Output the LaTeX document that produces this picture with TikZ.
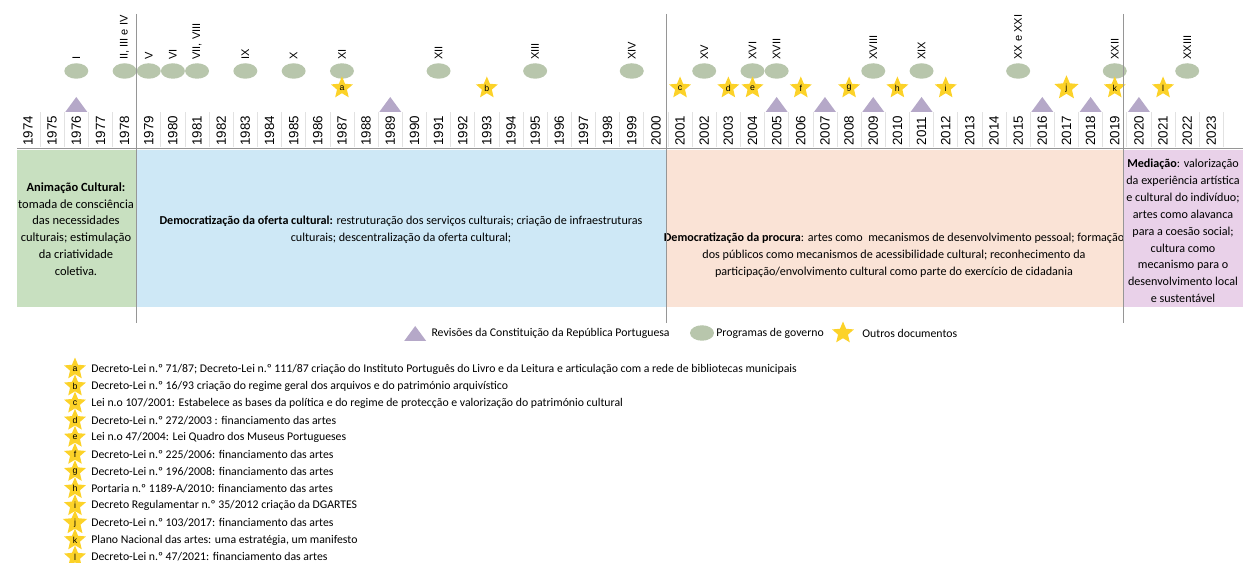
\documentclass[tikz,border=0pt]{standalone}
\usepackage{fontspec}
\setmainfont{Carlito}
\newfontfamily\arialfont{Liberation Sans}
\usetikzlibrary{shapes.geometric}

\definecolor{animgreen}{RGB}{200,224,192}
\definecolor{ofertablue}{RGB}{206,232,246}
\definecolor{procurapeach}{RGB}{250,227,214}
\definecolor{mediacaopink}{RGB}{233,209,233}
\definecolor{progsage}{RGB}{184,198,172}
\definecolor{revlilac}{RGB}{181,168,200}
\definecolor{docyellow}{RGB}{252,210,40}
\definecolor{rulegray}{RGB}{150,150,150}
\definecolor{cellgray}{RGB}{226,226,226}

\tikzset{
	yearlabel/.style={rotate=90, inner sep=0pt, font=\arialfont\fontsize{7.6}{8}\selectfont},
	numlabel/.style={rotate=90, anchor=west, inner sep=0pt, font=\arialfont\fontsize{6.3}{7}\selectfont},
	govprog/.style={ellipse, fill=progsage, minimum width=0.48cm, minimum height=0.31cm, inner sep=0pt},
	otherdoc/.style={star, star points=5, star point ratio=2.2, fill=docyellow, minimum size=0.46cm, inner sep=0pt, font=\arialfont\fontsize{5}{5}\selectfont},
	periodtext/.style={align=center, inner sep=0pt, font=\fontsize{6.9}{9.6}\selectfont},
	legendtext/.style={anchor=west, inner sep=0pt, font=\fontsize{6.7}{8}\selectfont},
	listtext/.style={anchor=west, inner sep=0pt, font=\fontsize{6.7}{7}\selectfont},
	revmark/.pic={\fill[revlilac] (-11,0) -- (11,0) -- (0,-15) -- cycle;},
}

\begin{document}
\begin{tikzpicture}[x=0.02cm, y=-0.02cm]
	\useasboundingbox (0,0) rectangle (1247,563);
	
	% Periods
	\fill[animgreen] (17,150) rectangle (136.5,307);
	\fill[ofertablue] (136.5,150) rectangle (666,307);
	\fill[procurapeach] (666,150) rectangle (1123,307);
	\fill[mediacaopink] (1123,150) rectangle (1243,307);
	
	\node[periodtext, font=\fontsize{7.1}{9.6}\selectfont] (anim) at (76,229) {\textbf{Animação Cultural:}\\tomada de consciência\\das necessidades\\culturais; estimulação\\da criatividade\\coletiva.};
	
	\node[periodtext] (oferta) at (401,230) {\textbf{Democratização da oferta cultural:} restruturação dos serviços culturais; criação de infraestruturas\\culturais; descentralização da oferta cultural;};
	
	\node[periodtext] (procura) at (894,255) {\textbf{Democratização da procura}: artes como \ mecanismos de desenvolvimento pessoal; formação\\dos públicos como mecanismos de acessibilidade cultural; reconhecimento da\\participação/envolvimento cultural como parte do exercício de cidadania};
	
	\node[periodtext] (mediacao) at (1183,231) {\textbf{Mediação}: valorização\\da experiência artística\\e cultural do indivíduo;\\artes como alavanca\\para a coesão social;\\cultura como\\mecanismo para o\\desenvolvimento local\\e sustentável};
	
	% Years
	\draw[rulegray] (17,148) -- (1243,148);
	\foreach \yr in {1974,...,2023}{
		\pgfmathsetmacro\xx{28+(\yr-1974)*24.15}
		\node[yearlabel] (y\yr) at (\xx,131) {\yr};
		\draw[cellgray] (\xx+12.07,112) -- (\xx+12.07,147.5);
	}
	
	% Revisions of the Constitution
	\foreach \yr in {1976,1989,2005,2007,2009,2011,2016,2018,2020}{
		\pgfmathsetmacro\xx{28+(\yr-1974)*24.15}
		\pic (rev\yr) at (\xx,112) {revmark};
	}
	
	% Government programmes
	\foreach \yr/\num in {1976/I, 1978/{II, III e IV}, 1979/V, 1980/VI, 1981/{VII, VIII}, 1983/IX, 1985/X, 1987/XI, 1991/XII, 1995/XIII, 1999/XIV, 2002/XV, 2004/XVI, 2005/XVII, 2009/XVIII, 2011/XIX, 2015/XX e XXI, 2019/XXII, 2022/XXIII}{
		\pgfmathsetmacro\xx{28+(\yr-1974)*24.15}
		\node[govprog] (gov\yr) at (\xx,71) {};
		\node[numlabel] (num\yr) at (\xx,60) {\num};
	}
	
	% Other documents
	\foreach \yr/\l in {1987/a, 1993/b, 2001/c, 2003/d, 2004/e, 2006/f, 2008/g, 2010/h, 2012/i, 2017/j, 2019/k, 2021/l}{
		\pgfmathsetmacro\xx{28+(\yr-1974)*24.15}
		\node[otherdoc] (doc\l) at (\xx,88) {\l};
	}
	
	% Period separators
	\foreach \xx in {136.5,666,1123}
		\draw[rulegray] (\xx,14) -- (\xx,323);
	
	% Legend
	\node[legendtext, anchor=east] (revkey) at (670,333) {Revisões da Constituição da República Portuguesa};
	\pic at ([xshift=-0.32cm, yshift=-0.16cm]revkey.west) {revmark};
	\node[govprog] (progkey) at (702,333) {};
	\node[legendtext] (progtext) at (716,333) {Programas de governo};
	\node[otherdoc] (dockey) at (843,333) {};
	\node[legendtext] (doctext) at (862,333) {Outros documentos};
	
	% Other documents list
	\foreach \l/\txt [count=\i from 0] in {
		a/{Decreto-Lei n.º 71/87; Decreto-Lei n.º 111/87 criação do Instituto Português do Livro e da Leitura e articulação com a rede de bibliotecas municipais},
		b/{Decreto-Lei n.º 16/93 criação do regime geral dos arquivos e do património arquivístico},
		c/{Lei n.o 107/2001: Estabelece as bases da política e do regime de protecção e valorização do património cultural},
		d/{Decreto-Lei n.º 272/2003 : financiamento das artes},
		e/{Lei n.o 47/2004: Lei Quadro dos Museus Portugueses},
		f/{Decreto-Lei n.º 225/2006: financiamento das artes},
		g/{Decreto-Lei n.º 196/2008: financiamento das artes},
		h/{Portaria n.º 1189-A/2010: financiamento das artes},
		i/{Decreto Regulamentar n.º 35/2012 criação da DGARTES},
		j/{Decreto-Lei n.º 103/2017: financiamento das artes},
		k/{Plano Nacional das artes: uma estratégia, um manifesto},
		l/{Decreto-Lei n.º 47/2021: financiamento das artes}}{
		\node[otherdoc] (key\l) at (75,{369+17.1*\i}) {\l};
		\node[listtext] (item\l) at (91,{369+17.1*\i}) {\txt};
	}
	
\end{tikzpicture}
\end{document}
